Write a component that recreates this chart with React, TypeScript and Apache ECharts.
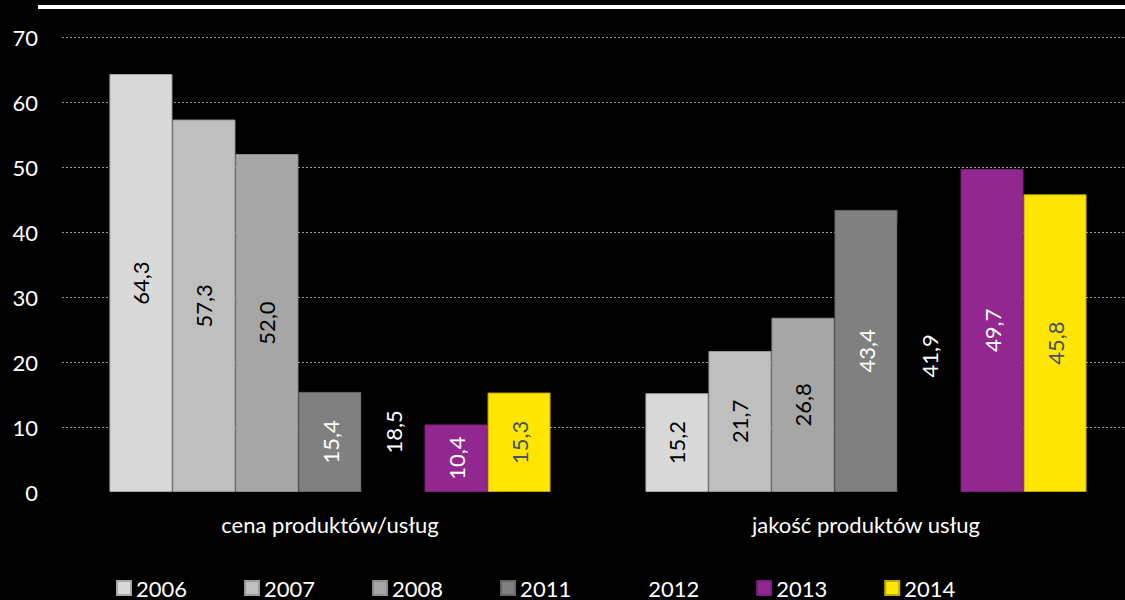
import React, { useEffect, useRef } from "react";
import * as echarts from "echarts";

const categories = ["cena produktów/usług", "jakość produktów usług"];
const years = ["2006", "2007", "2008", "2011", "2012", "2013", "2014"];
const values: number[][] = [
  [64.3, 15.2],
  [57.3, 21.7],
  [52.0, 26.8],
  [15.4, 43.4],
  [18.5, 41.9],
  [10.4, 49.7],
  [15.3, 45.8],
];
const colors = ["#d9d9d9", "#bfbfbf", "#a6a6a6", "#808080", "#000000", "#92278f", "#ffe600"];
const borders = ["#a6a6a6", "#999999", "#8c8c8c", "#666666", "#000000", "#7a1f78", "#bfa600"];
const labelColors = ["#000000", "#000000", "#000000", "#ffffff", "#ffffff", "#ffffff", "#44546a"];
const yTicks = [0, 10, 20, 30, 40, 50, 60, 70];

const FONT = "Lato";

export default function App() {
  const ref = useRef<HTMLDivElement>(null);
  useEffect(() => {
    if (!ref.current) return;
    const chart = echarts.init(ref.current, null, { renderer: "svg" });
    chart.setOption({
      animation: false,
      backgroundColor: "#000000",
      textStyle: { fontFamily: FONT },
      graphic: [
        {
          type: "rect",
          shape: { x: 38, y: 5, width: 1100, height: 4 },
          style: { fill: "#ffffff" },
        },
      ],
      grid: { left: 62, top: 37, width: 1072, height: 455 },
      legend: {
        top: 572,
        left: 111,
        itemWidth: 14,
        itemHeight: 14,
        itemGap: 57,
        icon: "rect",
        textStyle: { color: "#ffffff", fontSize: 22, fontFamily: FONT },
        data: years,
      },
      xAxis: {
        type: "category",
        data: categories,
        axisLine: { show: false },
        axisTick: { show: false },
        axisLabel: { color: "#ffffff", fontSize: 22, margin: 21, fontFamily: FONT },
      },
      yAxis: {
        type: "value",
        min: yTicks[0],
        max: yTicks[yTicks.length - 1],
        interval: 10,
        axisLine: { show: false },
        axisTick: { show: false },
        axisLabel: { color: "#ffffff", fontSize: 22, margin: 24, fontFamily: FONT },
        splitLine: {
          showMinLine: false,
          lineStyle: { color: "#9a9a9a", type: [2, 2], width: 1 },
        },
      },
      series: years.map((y, i) => ({
        name: y,
        type: "bar",
        data: values[i],
        barGap: "0%",
        barCategoryGap: "17.7%",
        itemStyle: { color: colors[i], borderColor: borders[i], borderWidth: 1 },
        label: {
          show: true,
          position: "inside",
          rotate: 90,
          fontSize: 22,
          fontFamily: FONT,
          color: labelColors[i],
          formatter: (p: any) => p.value.toFixed(1).replace(".", ","),
        },
      })),
    });
    return () => chart.dispose();
  }, []);
  return (
    <div
      style={{
        position: "absolute",
        left: 0,
        top: 0,
        width: 1125,
        height: 600,
        overflow: "hidden",
        background: "#000",
      }}
    >
      <div ref={ref} style={{ width: 1140, height: 600 }} />
    </div>
  );
}
